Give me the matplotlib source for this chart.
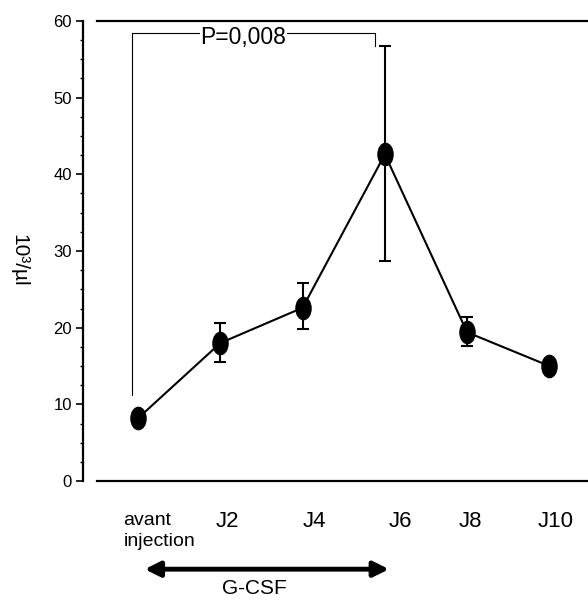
import numpy as np
import matplotlib.pyplot as plt
from matplotlib.path import Path
from matplotlib.transforms import Affine2D
from matplotlib.ticker import MultipleLocator

plt.rcParams['font.family'] = ['Liberation Sans', 'DejaVu Sans']

days = ['avant\ninjection', 'J2', 'J4', 'J6', 'J8', 'J10']
counts = [8.2, 18.0, 22.6, 42.6, 19.4, 15.0]
err_low = [0.0, 2.5, 2.8, 13.9, 1.8, 0.0]
err_high = [0.0, 2.6, 3.2, 14.1, 2.0, 0.0]
p_text = 'P=0,008'

x = np.arange(len(days))

fig = plt.figure(figsize=(5.88, 6.03), dpi=100)
ax = fig.add_axes([0.1412, 0.2023, 0.8588, 0.7629])

# tall ellipse marker
oval = Path.unit_circle().transformed(Affine2D().scale(0.68, 1.0))

ax.errorbar(x, counts, yerr=[err_low, err_high], color='black', lw=1.5,
            elinewidth=1.5, capsize=4, capthick=1.5, marker=oval,
            markersize=16, clip_on=False, zorder=3)

ax.set_xlim(-0.67, 5.47)
ax.set_ylim(0, 60)

ax.spines['right'].set_visible(False)
for side in ['left', 'bottom', 'top']:
    ax.spines[side].set_linewidth(1.6)
ax.spines['bottom'].set_bounds(-0.5, 5.47)
ax.spines['top'].set_bounds(-0.5, 5.47)

ax.yaxis.set_major_locator(MultipleLocator(10))
ax.yaxis.set_minor_locator(MultipleLocator(2.5))
ax.tick_params(axis='y', which='major', length=5, width=1.2, labelsize=12, pad=3)
ax.tick_params(axis='y', which='minor', length=2.5, width=1.0)
ax.tick_params(axis='x', bottom=False, labelbottom=False)
ax.set_ylabel('10³/µl', rotation=270, fontsize=15)
ax.yaxis.set_label_coords(-0.145, 0.48)

# day labels under the axis (offset from the points, as on the original sheet)
label_x = [-0.18, 1.09, 2.14, 3.19, 4.04, 5.08]
ax.text(label_x[0], -4.1, days[0], ha='left', va='top', fontsize=14,
        linespacing=1.3)
for lx, d in zip(label_x[1:], days[1:]):
    ax.text(lx, -3.9, d, ha='center', va='top', fontsize=16)

# treatment period arrow
ax.annotate('', xy=(3.05, -11.5), xytext=(0.08, -11.5),
            arrowprops=dict(arrowstyle='<|-|>,head_length=0.9,head_width=0.45',
                            color='black', lw=3.5, shrinkA=0, shrinkB=0),
            annotation_clip=False)
ax.text(1.41, -14.0, 'G-CSF', ha='center', va='center', fontsize=15)

# significance bracket
ax.plot([-0.07, -0.07, 2.88, 2.88], [11.2, 58.4, 58.4, 56.8],
        color='black', lw=0.8, clip_on=False)
ax.text(1.28, 57.8, p_text, ha='center', va='center', fontsize=16.5,
        bbox=dict(facecolor='white', edgecolor='none', pad=0.3))

fig.savefig('out.png', dpi=100)
